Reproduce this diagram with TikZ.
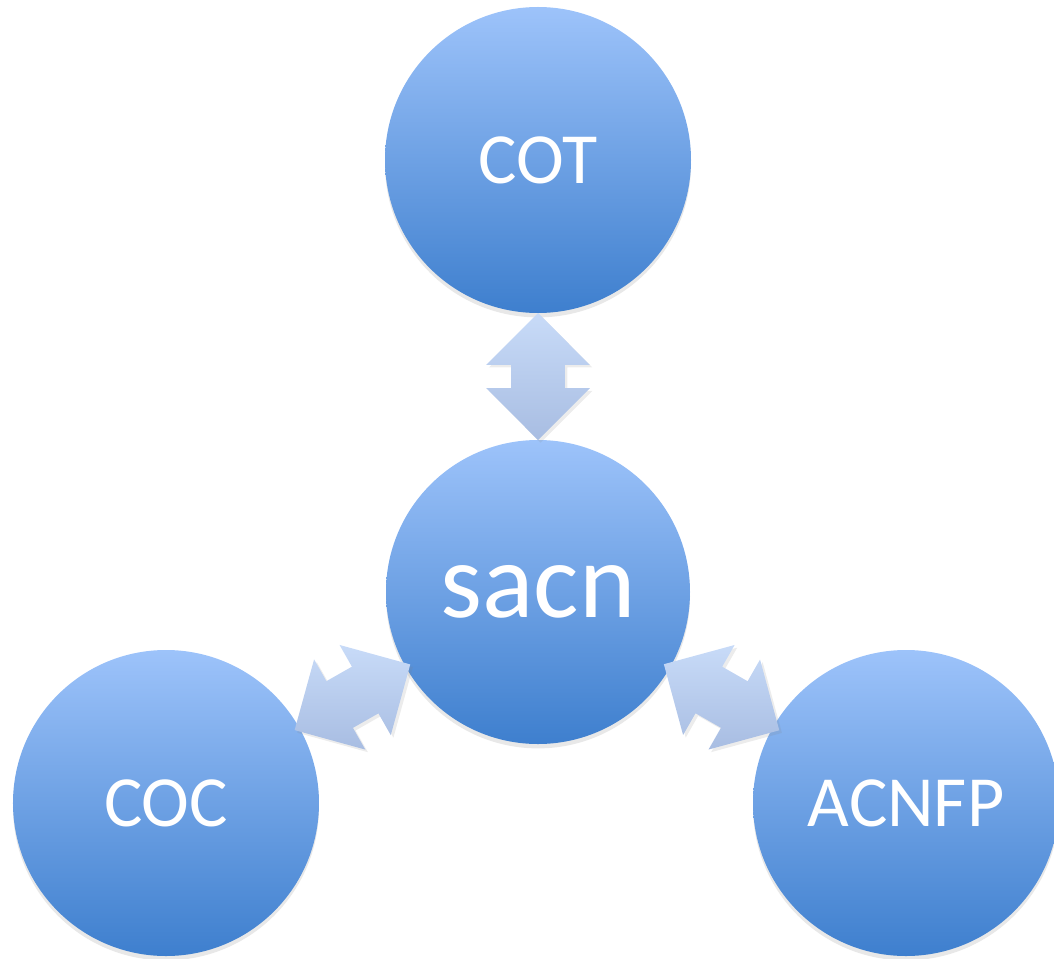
\documentclass[tikz,border=0pt]{standalone}
\usepackage{fontspec}
\setmainfont{Carlito}
\usepackage{xcolor}
\usetikzlibrary{shapes.arrows,shadows}
\definecolor{balltop}{RGB}{157,195,250}
\definecolor{ballbot}{RGB}{62,127,206}
\definecolor{arrtop}{RGB}{200,219,248}
\definecolor{arrbot}{RGB}{168,189,226}
\tikzstyle{centered} = [align=center, text centered, text=white]
\tikzset{
  % node styles
  ball/.style={centered, circle, minimum size=6.12cm, inner sep=0pt,
    top color=balltop, bottom color=ballbot, font=\fontsize{41}{41}\selectfont,
    drop shadow={opacity=0.18, shadow xshift=0pt, shadow yshift=-2.5pt}},
  hub/.style={ball, minimum size=6.08cm, font=\fontsize{61}{61}\selectfont},
  % edge styles
  link/.style={double arrow, minimum height=#1, inner xsep=0pt, inner ysep=0.53cm,
    double arrow head extend=0.5cm, double arrow tip angle=90,
    top color=arrtop, bottom color=arrbot,
    drop shadow={opacity=0.15, shadow xshift=1.5pt, shadow yshift=-1.5pt}},
  link/.default=2.66cm,
}
\begin{document}
\begin{tikzpicture}
    \useasboundingbox (-10.76,-7.32) rectangle (10.32,11.84);
    % hub
    \node(sacn)[hub] at (0,0) {sacn};
    % outer nodes
    \node(COT)[ball] at (0,8.64) {COT};
    \node(COC)[ball] at (-7.44,-4.22) {COC};
    \node(ACNFP)[ball] at (7.36,-4.22) {ACNFP};
    % links
    \path (COT) -- node[link=2.54cm, rotate=90]{} (sacn);
    \path (COC) -- node[link, rotate=29.6]{} (sacn);
    \path (sacn) -- node[link, rotate=-29.8]{} (ACNFP);
\end{tikzpicture}
\end{document}
